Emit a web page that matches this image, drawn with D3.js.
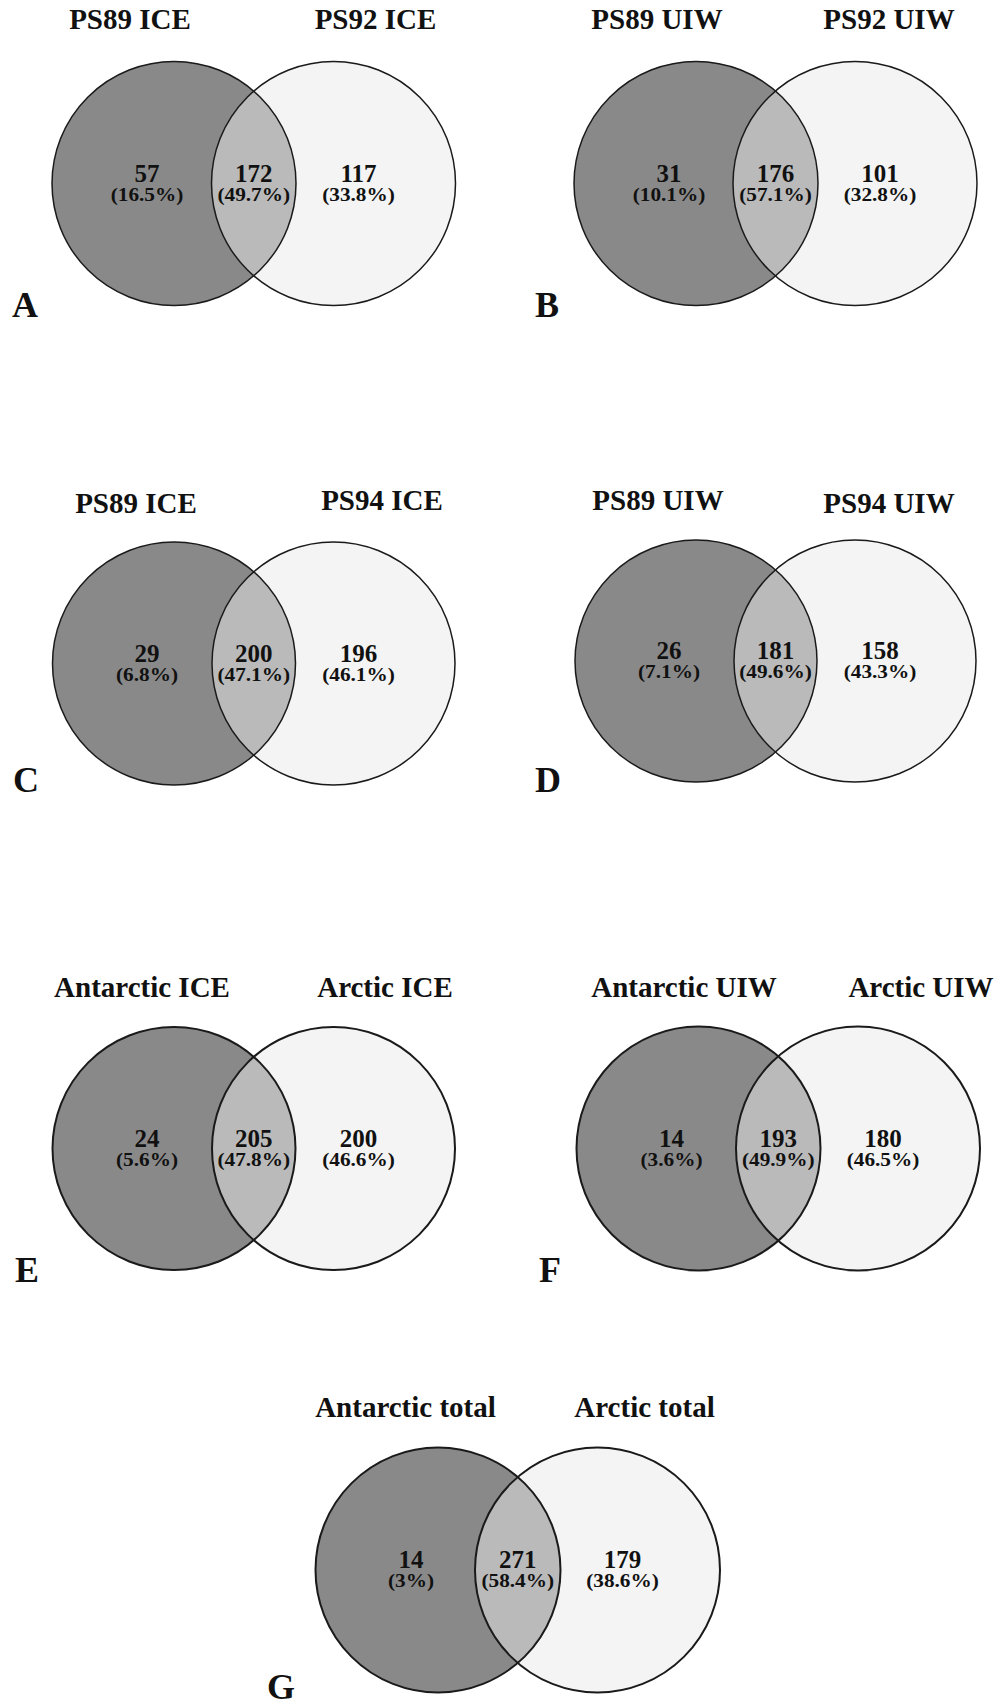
<!DOCTYPE html>
<html>
<head>
<meta charset="utf-8">
<script src="https://cdn.jsdelivr.net/npm/d3@7"></script>
<style>
  html, body { margin: 0; padding: 0; background: #fff; }
  svg { display: block; }
</style>
</head>
<body>
<svg id="chart" width="995" height="1708"></svg>
<script>
// ---- DATA ----
const panelIds = ["A", "B", "C", "D", "E", "F", "G"];
const leftSets  = ["PS89 ICE", "PS89 UIW", "PS89 ICE", "PS89 UIW", "Antarctic ICE", "Antarctic UIW", "Antarctic total"];
const rightSets = ["PS92 ICE", "PS92 UIW", "PS94 ICE", "PS94 UIW", "Arctic ICE", "Arctic UIW", "Arctic total"];
const leftOnly  = [57, 31, 29, 26, 24, 14, 14];
const shared    = [172, 176, 200, 181, 205, 193, 271];
const rightOnly = [117, 101, 196, 158, 200, 180, 179];
const leftPct   = ["16.5%", "10.1%", "6.8%", "7.1%", "5.6%", "3.6%", "3%"];
const sharedPct = ["49.7%", "57.1%", "47.1%", "49.6%", "47.8%", "49.9%", "58.4%"];
const rightPct  = ["33.8%", "32.8%", "46.1%", "43.3%", "46.6%", "46.5%", "38.6%"];

// ---- LAYOUT (positions / styles) ----
const layout = [
  {cx: 174,   cy: 183.5,  d: 159.5, r: 122,   tY: [29, 29],   tL: 130,   tR: 375.5, labX: 12,  labY: 317,  sw: 1.5},
  {cx: 696,   cy: 183.5,  d: 159,   r: 122,   tY: [29, 29],   tL: 657,   tR: 889,   labX: 535, labY: 317,  sw: 1.5},
  {cx: 174,   cy: 663.5,  d: 159.5, r: 121.5, tY: [513, 510], tL: 136,   tR: 382,   labX: 13,  labY: 792,  sw: 1.5},
  {cx: 696,   cy: 661,    d: 159,   r: 121,   tY: [510, 513], tL: 658,   tR: 889,   labX: 535, labY: 792,  sw: 1.5},
  {cx: 174,   cy: 1148.5, d: 159.5, r: 121.5, tY: [997, 997], tL: 142,   tR: 385,   labX: 15,  labY: 1282, sw: 2},
  {cx: 698.5, cy: 1148.5, d: 159.5, r: 122,   tY: [997, 997], tL: 684,   tR: 921,   labX: 539, labY: 1282, sw: 2},
  {cx: 438,   cy: 1570,   d: 159.5, r: 122.5, tY: [1417,1417],tL: 405.5, tR: 644.5, labX: 267, labY: 1699, sw: 2}
];
const colors = {left: "#898989", right: "#f4f4f4", both: "#bababa", stroke: "#1a1a1a", text: "#111"};
const FONT = '"Liberation Serif", "Times New Roman", Tinos, serif';

const svg = d3.select("#chart");
function txt(g) {
  return g.append("text").style("font-family", FONT).style("font-weight", "bold").attr("fill", colors.text);
}

panelIds.forEach((id, i) => {
  const L = layout[i];
  // horizontal scale inside a panel: 0 = left circle centre, 1 = right circle centre
  const x = d3.scaleLinear().domain([0, 1]).range([L.cx, L.cx + L.d]);
  const g = svg.append("g").attr("class", "panel-" + id);
  const xl = x(0), xr = x(1), xm = x(0.5);
  const a = L.d / 2, h = Math.sqrt(L.r * L.r - a * a);

  g.append("circle").attr("cx", xl).attr("cy", L.cy).attr("r", L.r).attr("fill", colors.left);
  g.append("circle").attr("cx", xr).attr("cy", L.cy).attr("r", L.r).attr("fill", colors.right);
  g.append("path")
    .attr("d", `M${xm},${L.cy - h} A${L.r},${L.r} 0 0 1 ${xm},${L.cy + h} A${L.r},${L.r} 0 0 1 ${xm},${L.cy - h}Z`)
    .attr("fill", colors.both);
  [xl, xr].forEach(c => g.append("circle").attr("cx", c).attr("cy", L.cy).attr("r", L.r)
    .attr("fill", "none").attr("stroke", colors.stroke).attr("stroke-width", L.sw));

  // set titles
  txt(g).attr("x", L.tL).attr("y", L.tY[0]).attr("text-anchor", "middle")
    .attr("font-size", 29).text(leftSets[i]);
  txt(g).attr("x", L.tR).attr("y", L.tY[1]).attr("text-anchor", "middle")
    .attr("font-size", 29).text(rightSets[i]);

  // counts and percentages
  const regions = [
    {x: xl - 27, n: leftOnly[i], pct: leftPct[i]},
    {x: xm,      n: shared[i],   pct: sharedPct[i]},
    {x: xr + 25, n: rightOnly[i], pct: rightPct[i]}
  ];
  regions.forEach(rg => {
    txt(g).attr("x", rg.x).attr("y", L.cy - 2).attr("text-anchor", "middle")
      .attr("font-size", 25).text(rg.n);
    txt(g).attr("text-anchor", "middle").attr("font-size", 18.5)
      .attr("transform", `translate(${rg.x},${L.cy + 17}) scale(1.15,1)`)
      .text("(" + rg.pct + ")");
  });

  // panel letter
  txt(g).attr("x", L.labX).attr("y", L.labY).attr("font-size", 36).text(id);
});
</script>
</body>
</html>
